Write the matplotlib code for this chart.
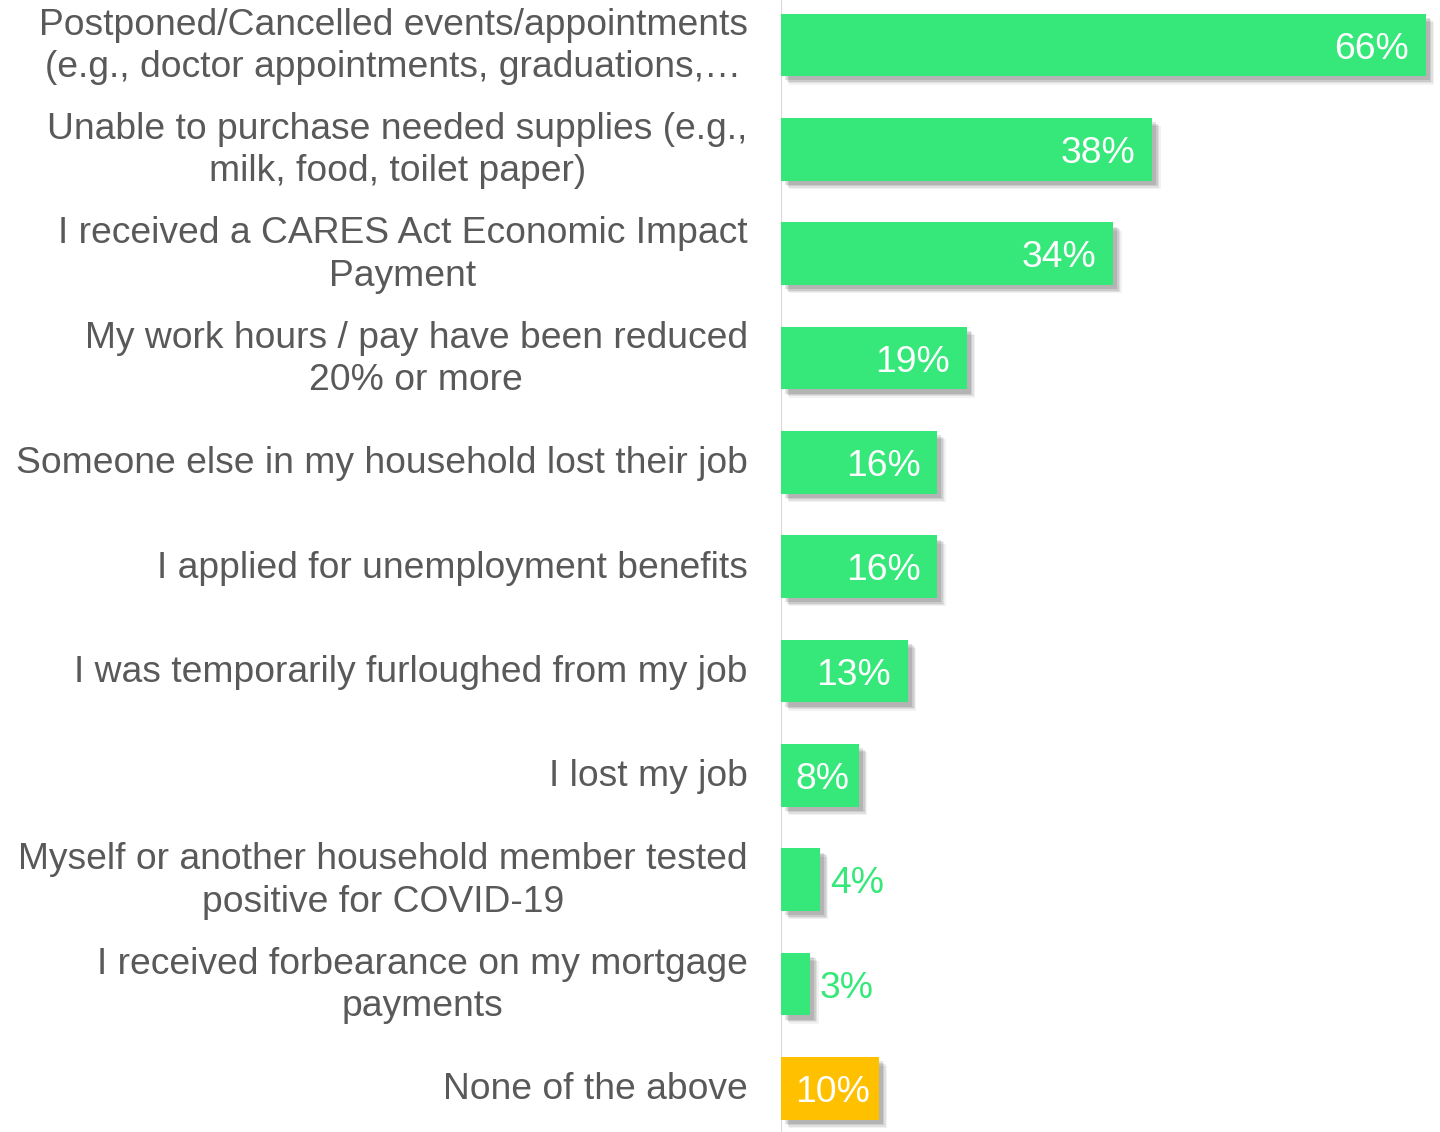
import matplotlib.pyplot as plt
import matplotlib.patheffects as pe
from matplotlib.transforms import offset_copy

plt.rcParams['font.family'] = ['Liberation Sans', 'DejaVu Sans']

# survey items, top to bottom
labels = [
    'Postponed/Cancelled events/appointments\n(e.g., doctor appointments, graduations,…',
    'Unable to purchase needed supplies (e.g.,\nmilk, food, toilet paper)',
    'I received a CARES Act Economic Impact\nPayment',
    'My work hours / pay have been reduced\n20% or more',
    'Someone else in my household lost their job',
    'I applied for unemployment benefits',
    'I was temporarily furloughed from my job',
    'I lost my job',
    'Myself or another household member tested\npositive for COVID-19',
    'I received forbearance on my mortgage\npayments',
    'None of the above',
]
values = [66, 38, 34, 19, 16, 16, 13, 8, 4, 3, 10]

GREEN = '#36e87a'
AMBER = '#ffc000'
colors = [GREEN] * (len(values) - 1) + [AMBER]

fig = plt.figure(figsize=(14.4, 11.32), dpi=100)
ax = fig.add_axes([781 / 1440, 0, 1 - 781 / 1440, 1])

y = list(range(len(values)))

# soft drop shadow built from a few offset layers
shadow = [pe.SimplePatchShadow(offset=(o, -o), shadow_rgbFace='#000000', alpha=a)
          for o, a in [(6, 0.05), (5, 0.07), (4, 0.09), (3, 0.11)]] + [pe.Normal()]
bars = ax.barh(y, values, height=0.6, color=colors, left=0)
for b in bars:
    b.set_path_effects(shadow)

ax.set_xlim(0, 67.45)
ax.set_ylim(10.417, -0.431)
ax.axis('off')
ax.axvline(0, color='#d9d9d9', lw=1.5, zorder=0)

FS = 26.8

# category labels to the left of the axis
lab_tr = offset_copy(ax.transData, fig=fig, x=-24, y=-1, units='points')
for yi, lab in zip(y, labels):
    ax.text(0, yi, lab, transform=lab_tr, ha='right', va='center',
            multialignment='center', fontsize=FS, color='#595959',
            linespacing=1.28, clip_on=False)

# value labels: inside the bar when it fits, outside otherwise
inside = offset_copy(ax.transData, fig=fig, x=-12, y=-3, units='points')
centred = offset_copy(ax.transData, fig=fig, x=2, y=-3, units='points')
outside = offset_copy(ax.transData, fig=fig, x=7, y=-3, units='points')
for yi, v, c in zip(y, values, colors):
    if v > 10:
        ax.text(v, yi, f'{v}%', transform=inside, ha='right', va='center',
                fontsize=FS, color='white')
    elif v >= 8:
        ax.text(v / 2, yi, f'{v}%', transform=centred, ha='center', va='center',
                fontsize=FS, color='white')
    else:
        ax.text(v, yi, f'{v}%', transform=outside, ha='left', va='center',
                fontsize=FS, color=c)

fig.savefig('out.png', dpi=100, facecolor='white')
